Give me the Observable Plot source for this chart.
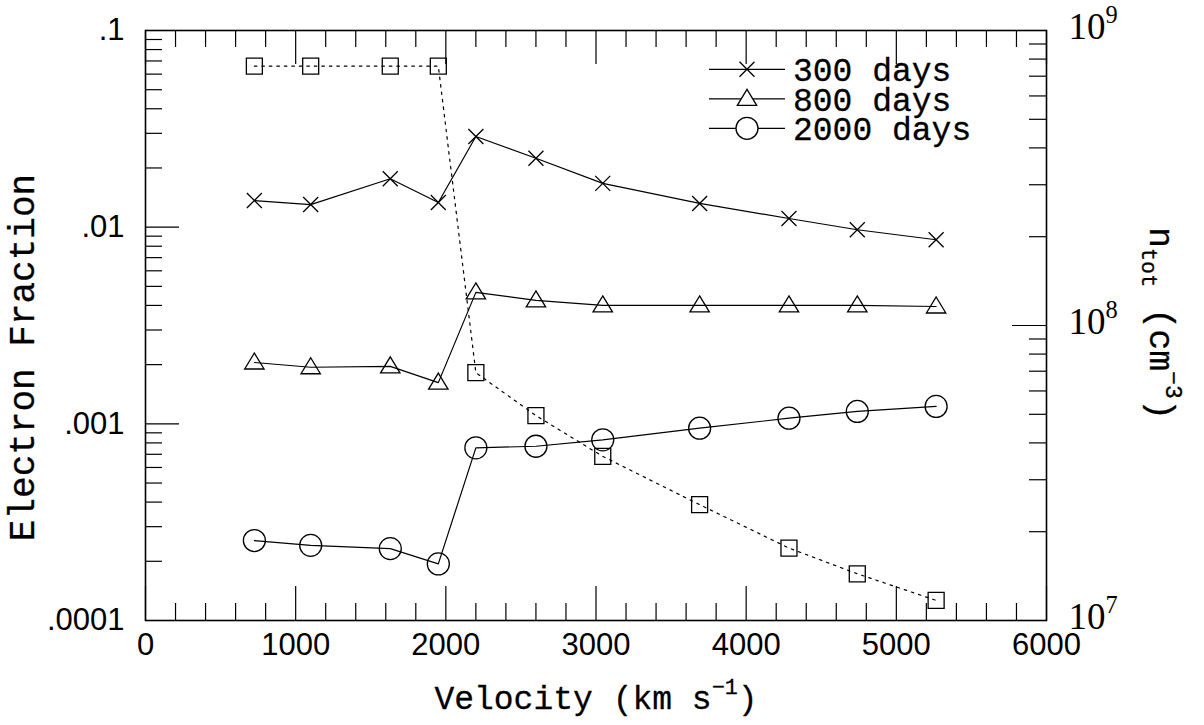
<!DOCTYPE html>
<html>
<head>
<meta charset="utf-8">
<script src="https://cdn.jsdelivr.net/npm/d3@7"></script>
<script src="https://cdn.jsdelivr.net/npm/@observablehq/plot@0.6"></script>
<style>
  html, body { margin: 0; padding: 0; background: #fff; }
  #chart svg { display: block; }
</style>
</head>
<body>
<div id="chart"></div>
<script>
// ---------------- data ----------------
const velocity = [725, 1100, 1630, 1950, 2200, 2600, 3045, 3690, 4285, 4740, 5265];
const ef300  = [0.01366, 0.01303, 0.01762, 0.01335, 0.0289, 0.0224, 0.0167, 0.0132, 0.01107, 0.0097, 0.00863];
const ef800  = [0.00205, 0.00194, 0.00196, 0.00162, 0.00466, 0.00424, 0.00400, 0.00400, 0.00400, 0.00400, 0.00395];
const ef2000 = [0.000255, 0.000241, 0.000232, 0.000194, 0.000755, 0.000769, 0.000829, 0.000950, 0.001068, 0.001156, 0.001226];
const ntot   = [7.57e8, 7.57e8, 7.57e8, 7.57e8, 6.92e7, 4.95e7, 3.60e7, 2.47e7, 1.76e7, 1.44e7, 1.17e7];

const seriesNames = ["300 days", "800 days", "2000 days"];

const xTickValues = [0, 1000, 2000, 3000, 4000, 5000, 6000];
const xTickLabels = ["0", "1000", "2000", "3000", "4000", "5000", "6000"];
const leftTickValues = [0.0001, 0.001, 0.01, 0.1];
const leftTickLabels = [".0001", ".001", ".01", ".1"];
const rightTickValues = [1e7, 1e8, 1e9];
const rightTickLabels = ["10^{7}", "10^{8}", "10^{9}"];

const xTitle = "Velocity (km s^{\u22121})";
const yTitle = "Electron Fraction";
const y2Title = "n_{tot} (cm^{\u22123})";

// ---------------- layout ----------------
const W = 1204, H = 725;
const mL = 145, mR = 158, mT = 30, mB = 105;
const FW = W - mL - mR;   // frame width
const FH = H - mT - mB;   // frame height
const MINOR = 17, MAJOR = 34;

const MONO = "'Liberation Mono', 'DejaVu Sans Mono', monospace";
const SANS = "'Liberation Sans', Arial, sans-serif";
const SERIF = "'Liberation Serif', 'DejaVu Serif', serif";

// right axis (n_tot, 10^7..10^9) mapped onto left axis (1e-4..1e-1)
const toLeft = n => Math.pow(10, -4 + 1.5 * (Math.log10(n) - 7));

const rows = velocity.map((v, i) => ({v, e300: ef300[i], e800: ef800[i], e2000: ef2000[i], n: toLeft(ntot[i])}));

// tick positions
const xMinor = d3.range(0, 6001, 200).filter(d => d % 1000 !== 0);
const leftMinor = leftTickValues.slice(0, -1).flatMap(b => d3.range(2, 10).map(k => k * b));
const rightMajor = rightTickValues.map(toLeft);
const rightMinor = rightTickValues.slice(0, -1).flatMap(b => d3.range(2, 10).map(k => toLeft(k * b)));

// custom marker shapes (fixed pixel sizes)
const symTimes = {draw(c) { c.moveTo(-7.5, -7.5); c.lineTo(7.5, 7.5); c.moveTo(7.5, -7.5); c.lineTo(-7.5, 7.5); }};
const symTri = {draw(c) { c.moveTo(0, -9.5); c.lineTo(9.7, 6.5); c.lineTo(-9.7, 6.5); c.closePath(); }};
const symCirc = {draw(c) { c.moveTo(11, 0); c.arc(0, 0, 11, 0, 2 * Math.PI); }};
const symSq = {draw(c) { c.moveTo(-8, -8); c.lineTo(8, -8); c.lineTo(8, 8); c.lineTo(-8, 8); c.closePath(); }};
const seriesSymbols = [symTimes, symTri, symCirc];

const legendMark = (index, scales, values, dims) => {
  const right = dims.width - dims.marginRight;
  const g = d3.create("svg:g");
  seriesNames.forEach((name, i) => {
    const y = dims.marginTop + 39.3 + i * 29.5;
    g.append("line").attr("x1", right - 337).attr("x2", right - 261)
      .attr("y1", y).attr("y2", y).attr("stroke", "black").attr("stroke-width", 1.2);
    g.append("path").attr("d", d3.symbol(seriesSymbols[i])())
      .attr("transform", `translate(${right - 299},${y})`)
      .attr("fill", "white").attr("stroke", "black").attr("stroke-width", 1.3);
    g.append("text").attr("x", right - 253).attr("y", y).attr("dy", "0.36em")
      .attr("text-anchor", "start")
      .attr("font-family", MONO).attr("font-size", 33).attr("fill", "black")
      .attr("stroke", "black").attr("stroke-width", 0.3)
      .text(name);
  });
  return g.node();
};

const lineOpts = {stroke: "black", strokeWidth: 1.2};
const dotOpts = {stroke: "black", fill: "none", strokeWidth: 1.3, r: 1};
const titleStyle = {fontFamily: MONO, fill: "black", stroke: "black", strokeWidth: 0.3, textAnchor: "middle"};

const plot = Plot.plot({
  width: W, height: H,
  marginLeft: mL, marginRight: mR, marginTop: mT, marginBottom: mB,
  style: {background: "white", color: "black", overflow: "visible"},
  x: {domain: [0, 6000], axis: null},
  y: {type: "log", domain: [0.0001, 0.1], axis: null},
  marks: [
    // ticks
    Plot.tickX(xMinor, {x: d => d, insetTop: FH - MINOR, stroke: "black", strokeWidth: 1.2}),
    Plot.tickX(xTickValues, {x: d => d, insetTop: FH - MAJOR, stroke: "black", strokeWidth: 1.2}),
    Plot.tickX(xMinor, {x: d => d, insetBottom: FH - MINOR, stroke: "black", strokeWidth: 1.2}),
    Plot.tickX(xTickValues, {x: d => d, insetBottom: FH - MAJOR, stroke: "black", strokeWidth: 1.2}),
    Plot.tickY(leftMinor, {y: d => d, insetRight: FW - MINOR, stroke: "black", strokeWidth: 1.2}),
    Plot.tickY(leftTickValues, {y: d => d, insetRight: FW - MAJOR, stroke: "black", strokeWidth: 1.2}),
    Plot.tickY(rightMinor, {y: d => d, insetLeft: FW - MINOR, stroke: "black", strokeWidth: 1.2}),
    Plot.tickY(rightMajor, {y: d => d, insetLeft: FW - MAJOR, stroke: "black", strokeWidth: 1.2}),
    Plot.frame({stroke: "black", strokeWidth: 1.6}),

    // tick labels
    Plot.text(xTickValues, {x: d => d, frameAnchor: "bottom", dy: 34, text: (d, i) => xTickLabels[i],
      fontFamily: SANS, fontSize: 31, fill: "black"}),
    Plot.text(leftTickValues, {y: d => d, frameAnchor: "left", dx: -21, textAnchor: "end",
      text: (d, i) => leftTickLabels[i], fontFamily: SANS, fontSize: 31, fill: "black"}),
    Plot.text(rightMajor, {y: d => d, frameAnchor: "right", dx: 22, dy: -3, textAnchor: "start",
      text: (d, i) => rightTickLabels[i], fontFamily: SERIF, fontSize: 37, fill: "black"}),

    // axis titles
    Plot.text([xTitle], {text: d => d, frameAnchor: "bottom", dy: 88, lineAnchor: "bottom",
      fontSize: 33, ...titleStyle}),
    Plot.text([yTitle], {text: d => d, frameAnchor: "left", dx: -123, dy: 32, rotate: -90,
      fontSize: 36, ...titleStyle}),
    Plot.text([y2Title], {text: d => d, frameAnchor: "right", dx: 115, dy: -2, rotate: 90,
      fontSize: 35, ...titleStyle}),

    // data
    Plot.line(rows, {x: "v", y: "n", stroke: "black", strokeWidth: 1.2, strokeDasharray: "2.5,5"}),
    Plot.dot(rows, {x: "v", y: "n", symbol: symSq, ...dotOpts}),
    Plot.line(rows, {x: "v", y: "e300", ...lineOpts}),
    Plot.dot(rows, {x: "v", y: "e300", symbol: symTimes, ...dotOpts}),
    Plot.line(rows, {x: "v", y: "e800", ...lineOpts}),
    Plot.dot(rows, {x: "v", y: "e800", symbol: symTri, ...dotOpts}),
    Plot.line(rows, {x: "v", y: "e2000", ...lineOpts}),
    Plot.dot(rows, {x: "v", y: "e2000", symbol: symCirc, ...dotOpts}),

    legendMark
  ]
});

document.getElementById("chart").appendChild(plot);

// convert ^{..} and _{..} into superscript / subscript tspans
d3.select(plot).selectAll("text").each(function() {
  const el = this;
  const t = el.textContent;
  if (!/[\^_]\{/.test(t)) return;
  const fs = parseFloat(getComputedStyle(el).fontSize) || 30;
  const re = /([\^_])\{([^}]*)\}|([^\^_]+)/g;
  let m, cur = 0;
  el.textContent = "";
  while ((m = re.exec(t))) {
    const ts = d3.select(el).append("tspan");
    let shift = 0, size = null, str;
    if (m[1] === "^") { shift = -0.44 * fs; size = 0.66 * fs; str = m[2]; }
    else if (m[1] === "_") { shift = 0.25 * fs; size = 0.62 * fs; str = m[2]; }
    else { str = m[3]; }
    if (size) ts.attr("font-size", size);
    if (shift !== cur) ts.attr("dy", shift - cur);
    cur = shift;
    ts.text(str);
  }
});
</script>
</body>
</html>
